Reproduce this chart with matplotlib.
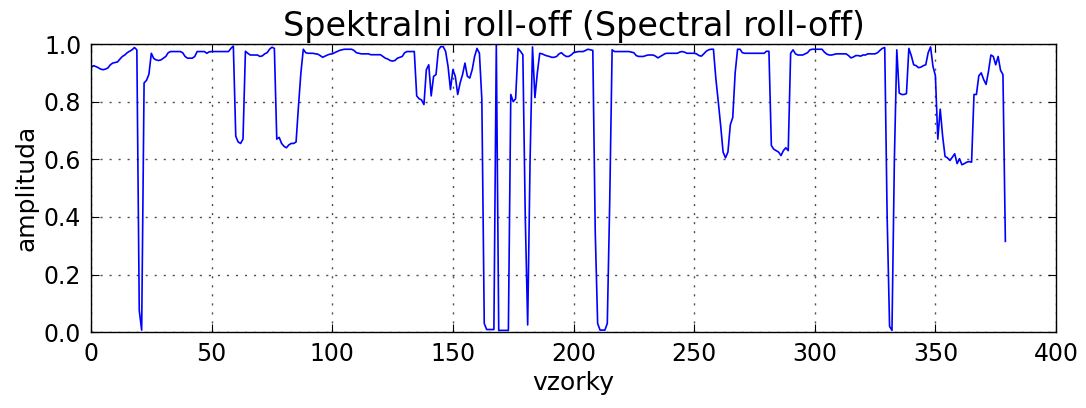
import numpy as np
import matplotlib
matplotlib.use('Agg')
import matplotlib.pyplot as plt

# spectral roll-off per sample
rolloff = [
    0.918, 0.925, 0.922, 0.918, 0.913, 0.911, 0.913, 0.917, 0.928, 0.934,
    0.936, 0.938, 0.948, 0.957, 0.962, 0.970, 0.975, 0.980, 0.988, 0.980,
    0.075, 0.007, 0.865, 0.874, 0.895, 0.968, 0.950, 0.945, 0.943, 0.945,
    0.951, 0.957, 0.970, 0.974, 0.974, 0.974, 0.974, 0.974, 0.970, 0.957,
    0.951, 0.951, 0.951, 0.957, 0.974, 0.974, 0.974, 0.974, 0.968, 0.973,
    0.974, 0.974, 0.974, 0.974, 0.974, 0.974, 0.974, 0.974, 0.985, 0.993,
    0.680, 0.660, 0.655, 0.670, 0.975, 0.968, 0.962, 0.962, 0.962, 0.962,
    0.957, 0.959, 0.966, 0.970, 0.982, 0.989, 0.985, 0.670, 0.676, 0.655,
    0.645, 0.640, 0.650, 0.655, 0.655, 0.660, 0.785, 0.900, 0.982, 0.970,
    0.968, 0.968, 0.968, 0.966, 0.965, 0.960, 0.954, 0.958, 0.962, 0.965,
    0.966, 0.970, 0.974, 0.978, 0.980, 0.982, 0.982, 0.982, 0.982, 0.978,
    0.970, 0.968, 0.966, 0.966, 0.966, 0.966, 0.963, 0.963, 0.963, 0.963,
    0.963, 0.957, 0.951, 0.948, 0.943, 0.941, 0.943, 0.951, 0.954, 0.957,
    0.970, 0.974, 0.974, 0.974, 0.974, 0.820, 0.810, 0.806, 0.790, 0.911,
    0.928, 0.820, 0.888, 0.894, 0.980, 0.991, 0.991, 0.974, 0.922, 0.842,
    0.911, 0.888, 0.825, 0.865, 0.894, 0.934, 0.888, 0.882, 0.911, 0.957,
    0.985, 0.968, 0.808, 0.030, 0.009, 0.009, 0.009, 0.009, 1.000, 0.006,
    0.006, 0.006, 0.006, 0.006, 0.825, 0.800, 0.810, 0.985, 0.975, 0.963,
    0.400, 0.025, 0.600, 0.990, 0.814, 0.900, 0.968, 0.966, 0.962, 0.959,
    0.957, 0.954, 0.954, 0.957, 0.966, 0.970, 0.962, 0.957, 0.957, 0.962,
    0.970, 0.972, 0.974, 0.974, 0.974, 0.978, 0.982, 0.980, 0.978, 0.350,
    0.030, 0.007, 0.007, 0.007, 0.030, 0.450, 0.980, 0.974, 0.974, 0.974,
    0.974, 0.974, 0.974, 0.974, 0.972, 0.970, 0.960, 0.957, 0.957, 0.957,
    0.960, 0.962, 0.962, 0.962, 0.958, 0.952, 0.957, 0.962, 0.967, 0.968,
    0.968, 0.968, 0.968, 0.968, 0.972, 0.974, 0.972, 0.968, 0.968, 0.968,
    0.968, 0.966, 0.960, 0.958, 0.966, 0.975, 0.980, 0.982, 0.982, 0.880,
    0.800, 0.716, 0.625, 0.605, 0.625, 0.720, 0.745, 0.900, 0.982, 0.982,
    0.970, 0.968, 0.968, 0.968, 0.968, 0.968, 0.968, 0.968, 0.968, 0.968,
    0.975, 0.975, 0.648, 0.635, 0.630, 0.625, 0.613, 0.630, 0.640, 0.630,
    0.968, 0.980, 0.966, 0.962, 0.962, 0.962, 0.966, 0.970, 0.980, 0.982,
    0.982, 0.982, 0.982, 0.982, 0.972, 0.965, 0.962, 0.962, 0.964, 0.966,
    0.966, 0.966, 0.966, 0.966, 0.960, 0.952, 0.955, 0.960, 0.960, 0.958,
    0.962, 0.962, 0.966, 0.966, 0.966, 0.966, 0.970, 0.978, 0.985, 0.988,
    0.400, 0.020, 0.006, 0.600, 0.980, 0.830, 0.825, 0.825, 0.828, 0.985,
    0.960, 0.928, 0.925, 0.918, 0.920, 0.925, 0.928, 0.970, 0.990, 0.922,
    0.890, 0.670, 0.774, 0.680, 0.610, 0.605, 0.596, 0.607, 0.619, 0.585,
    0.602, 0.581, 0.585, 0.590, 0.592, 0.590, 0.825, 0.825, 0.890, 0.900,
    0.877, 0.860, 0.905, 0.962, 0.957, 0.928, 0.957, 0.909, 0.894, 0.315,
]
samples = np.arange(len(rolloff))

title = 'Spektralni roll-off (Spectral roll-off)'
xlabel = 'vzorky'
ylabel = 'amplituda'

fig = plt.figure(figsize=(10.86, 4.08), dpi=100)
ax = fig.add_axes([0.0838, 0.186, 0.8886, 0.706])

ax.plot(samples, rolloff, color='#0000ff', linewidth=1.2)

ax.set_xlim(0, 400)
ax.set_ylim(0.0, 1.0)
ax.set_xticks(np.arange(0, 401, 50))
ax.set_yticks(np.arange(0, 1.01, 0.2))
ax.set_yticklabels(['%.1f' % v for v in np.arange(0, 1.01, 0.2)])

ax.grid(True, linestyle=(0, (1.5, 5)), color='0.3', linewidth=1.0)
ax.tick_params(direction='in', top=True, right=True, length=6, labelsize=17, pad=7)
for s in ax.spines.values():
    s.set_linewidth(1.0)

ax.set_title(title, fontsize=24, pad=6)
ax.set_xlabel(xlabel, fontsize=18)
ax.set_ylabel(ylabel, fontsize=18)

fig.savefig('out.png', dpi=100)
